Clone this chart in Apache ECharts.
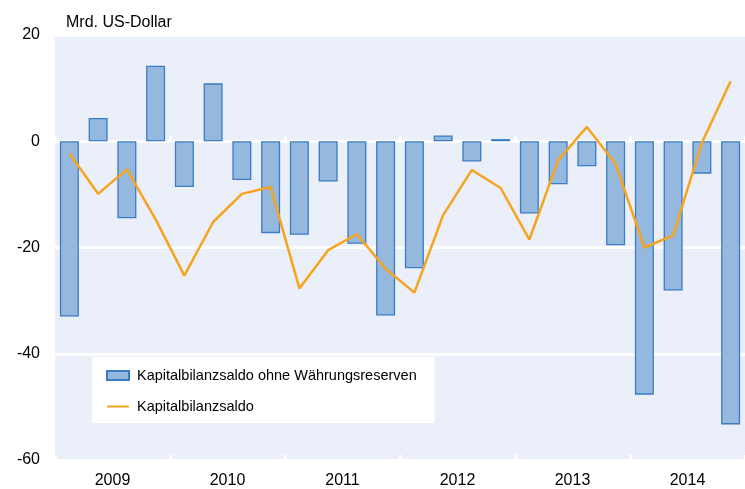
<!DOCTYPE html>
<html lang="de">
<head>
    <meta charset="UTF-8">
    <title>Kapitalbilanz</title>
    <script src="https://cdn.jsdelivr.net/npm/echarts@6.0.0/dist/echarts.min.js"></script>
    <style>
        body { margin: 0; background: #fff; }
    </style>
</head>
<body>
<div id="chart" style="width: 745px; height: 489px;"></div>
<script>
    var years = ['2009', '2010', '2011', '2012', '2013', '2014'];
    var quarters = [
        '2009 Q1', '2009 Q2', '2009 Q3', '2009 Q4',
        '2010 Q1', '2010 Q2', '2010 Q3', '2010 Q4',
        '2011 Q1', '2011 Q2', '2011 Q3', '2011 Q4',
        '2012 Q1', '2012 Q2', '2012 Q3', '2012 Q4',
        '2013 Q1', '2013 Q2', '2013 Q3', '2013 Q4',
        '2014 Q1', '2014 Q2', '2014 Q3', '2014 Q4'
    ];
    // Kapitalbilanzsaldo ohne Währungsreserven (bars)
    var ohneReserven = [
        -33.0, 4.4, -14.5, 14.2,
        -8.6, 10.9, -7.3, -17.3,
        -17.6, -7.6, -19.3, -32.8,
        -23.9, 1.1, -3.8, 0.4,
        -13.6, -8.1, -4.7, -19.6,
        -47.7, -28.1, -6.1, -53.3
    ];
    // Kapitalbilanzsaldo (line)
    var saldo = [
        -2.3, -9.9, -5.3, -14.7,
        -25.3, -15.2, -9.9, -8.6,
        -27.7, -20.5, -17.5, -24.0,
        -28.5, -13.9, -5.4, -8.8,
        -18.5, -3.6, 2.7, -4.3,
        -20.0, -17.7, -0.3, 11.3
    ];

    var chart = echarts.init(document.getElementById('chart'));
    var font = 'Liberation Sans, Arial, sans-serif';

    var option = {
        animation: false,
        title: {
            text: 'Mrd. US-Dollar',
            left: 61,
            top: 10,
            textStyle: { fontFamily: font, fontSize: 16, fontWeight: 'normal', color: '#000' }
        },
        legend: {
            orient: 'vertical',
            left: 92,
            top: 357,
            backgroundColor: '#fff',
            padding: [11, 18, 9, 14],
            itemGap: 16,
            itemWidth: 22,
            itemHeight: 9,
            textStyle: { fontFamily: font, fontSize: 14.5, color: '#000', padding: [0, 0, 0, 3] },
            data: [
                { name: 'Kapitalbilanzsaldo ohne Währungsreserven', icon: 'rect' },
                { name: 'Kapitalbilanzsaldo', itemStyle: { opacity: 0 } }
            ]
        },
        grid: {
            left: 55,
            right: -2,
            top: 35,
            bottom: 29,
            show: true,
            backgroundColor: '#EBEFFA',
            borderWidth: 0
        },
        xAxis: [
            {
                type: 'category',
                data: quarters,
                axisLine: { onZero: true, lineStyle: { color: '#fff', width: 3 } },
                axisTick: {
                    show: true,
                    inside: true,
                    length: 5,
                    interval: function (index) { return index % 4 === 0; },
                    lineStyle: { color: '#fff', width: 3 }
                },
                axisLabel: { show: false }
            },
            {
                type: 'category',
                data: years,
                position: 'bottom',
                axisLine: { show: false, onZero: false },
                axisTick: { show: true, inside: true, length: 5, lineStyle: { color: '#fff', width: 3 } },
                axisLabel: { fontFamily: font, fontSize: 16, color: '#000', margin: 13 }
            }
        ],
        yAxis: {
            type: 'value',
            min: -60,
            max: 20,
            interval: 20,
            axisLine: { show: false },
            axisTick: { show: false },
            axisLabel: { fontFamily: font, fontSize: 16, color: '#000', margin: 15 },
            splitLine: { lineStyle: { color: '#fff', width: 3 } }
        },
        series: [
            {
                name: 'Kapitalbilanzsaldo ohne Währungsreserven',
                type: 'bar',
                xAxisIndex: 0,
                barWidth: 19,
                itemStyle: { color: '#95B8DE', borderColor: '#3A7CC6', borderWidth: 1.3 },
                data: ohneReserven
            },
            {
                name: 'Kapitalbilanzsaldo',
                type: 'line',
                xAxisIndex: 0,
                symbol: 'none',
                lineStyle: { color: '#F6A41E', width: 2.5 },
                itemStyle: { color: '#F6A41E' },
                data: saldo
            }
        ]
    };
    chart.setOption(option);
</script>
</body>
</html>
